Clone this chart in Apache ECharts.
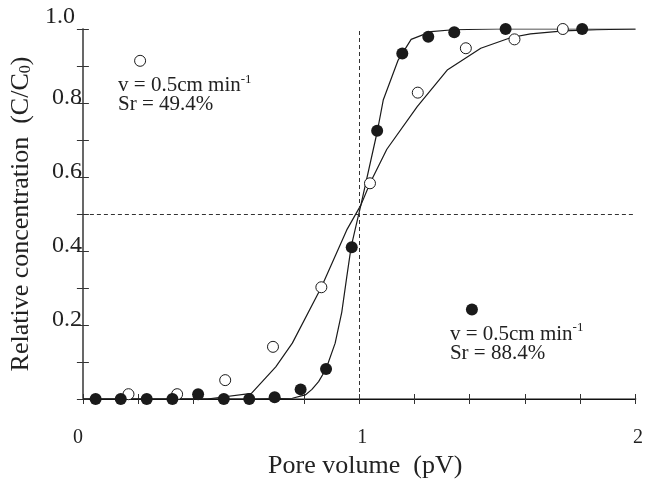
<!DOCTYPE html>
<html>
<head>
<meta charset="utf-8">
<script src="https://cdn.jsdelivr.net/npm/echarts@6/dist/echarts.min.js"></script>
<style>
  html, body { margin: 0; padding: 0; background: #fff; }
  #main { width: 646px; height: 491px; }
</style>
</head>
<body>
<div id="main"></div>
<script>
// tick labels
var xTickLabels = ['0', '1', '2'];
var yTickLabels = ['0.2', '0.4', '0.6', '0.8', '1.0'];

// Sr = 49.4% (open circles)
var pvOpen = [0.165, 0.341, 0.515, 0.688, 0.863, 1.039, 1.212, 1.386, 1.562, 1.737];
var cOpen  = [0.013, 0.013, 0.051, 0.141, 0.302, 0.583, 0.828, 0.948, 0.972, 1.0];

// Sr = 88.4% (filled circles)
var pvFilled = [0.046, 0.137, 0.231, 0.324, 0.417, 0.51, 0.602, 0.694, 0.788, 0.88, 0.973, 1.065, 1.156, 1.25, 1.344, 1.53, 1.807];
var cFilled  = [0, 0, 0, 0, 0.013, 0, 0, 0.005, 0.026, 0.081, 0.41, 0.725, 0.934, 0.979, 0.991, 1.0, 1.0];

// fitted curves
var pvFitOpen = [0, 0.45, 0.61, 0.698, 0.758, 0.863, 0.955, 1.006, 1.039, 1.1, 1.21, 1.32, 1.44, 1.55, 1.62, 1.74, 1.86, 2];
var cFitOpen  = [0, 0, 0.015, 0.087, 0.151, 0.302, 0.457, 0.524, 0.583, 0.675, 0.79, 0.89, 0.948, 0.977, 0.987, 0.995, 0.998, 1.0];
var pvFitFilled = [0, 0.6, 0.758, 0.805, 0.829, 0.853, 0.88, 0.913, 0.937, 0.955, 0.971, 0.985, 1.006, 1.066, 1.087, 1.141, 1.188, 1.26, 1.34, 1.5, 2];
var cFitFilled  = [0, 0, 0.002, 0.011, 0.026, 0.047, 0.081, 0.151, 0.235, 0.33, 0.412, 0.457, 0.524, 0.725, 0.808, 0.916, 0.972, 0.993, 0.998, 1.0, 1.0];

// legend markers (data coordinates)
var legendOpen = [0.207, 0.914];
var legendFilled = [1.408, 0.242];

function zip(a, b) {
  return a.map(function (v, i) { return [v, b[i]]; });
}

var serif = '"Liberation Serif", "Times New Roman", serif';
var ink = '#1a1a1a';

var myChart = echarts.init(document.getElementById('main'));

var tickX = {
  type: 'value', min: 0, max: 2, interval: 0.2,
  splitLine: { show: false },
  axisTick: { show: true, inside: true, length: 5, lineStyle: { color: '#333' } }
};

myChart.setOption({
  animation: false,
  grid: { left: 79, right: 9, top: 29, bottom: 92 },
  xAxis: [
    Object.assign({}, tickX, {
      position: 'bottom',
      axisLine: { lineStyle: { color: '#888', width: 2 } },
      axisLabel: {
        margin: 29,
        fontFamily: serif, fontSize: 20, color: '#222',
        formatter: function (v) {
          var i = xTickLabels.indexOf(String(Math.round(v * 10) / 10));
          if (i < 0) return '';
          return '{l' + i + '|' + xTickLabels[i] + '}';
        },
        rich: {
          l0: { fontFamily: serif, fontSize: 20, color: '#222', padding: [0, 10, 0, 0] },
          l1: { fontFamily: serif, fontSize: 20, color: '#222', padding: [0, 0, 0, 6] },
          l2: { fontFamily: serif, fontSize: 20, color: '#222', padding: [0, 0, 0, 5] }
        }
      },
      name: 'Pore volume  (pV)',
      nameLocation: 'middle',
      nameGap: 53,
      nameTextStyle: { fontFamily: serif, fontSize: 26, color: '#222', padding: [0, 0, 0, 12] }
    }),
    Object.assign({}, tickX, {
      position: 'top',
      axisLine: { lineStyle: { color: '#111', width: 1 } },
      axisLabel: { show: false }
    })
  ],
  yAxis: [
    {
      type: 'value', min: 0, max: 1, interval: 0.1, position: 'left',
      splitLine: { show: false },
      axisLine: { lineStyle: { color: '#888', width: 1.5 } },
      axisTick: { show: true, inside: true, length: 6, lineStyle: { color: '#333' } },
      axisLabel: {
        margin: 1,
        formatter: function (v) {
          var s = (Math.round(v * 10) / 10).toFixed(1);
          if (yTickLabels.indexOf(s) < 0) return '';
          return s === '1.0' ? '{top|' + s + '}' : '{n|' + s + '}';
        },
        rich: {
          n: { fontFamily: serif, fontSize: 24, color: '#222', padding: [0, 0, 10, 0] },
          top: { fontFamily: serif, fontSize: 24, color: '#222', padding: [0, 7, 24, 0] }
        }
      },
      name: '{a|Relative concentration  (C/C}{s|0}{a|)}',
      nameLocation: 'middle',
      nameRotate: 90,
      nameGap: 47,
      nameTextStyle: {
        rich: {
          a: { fontFamily: serif, fontSize: 26, color: '#222' },
          s: { fontFamily: serif, fontSize: 16, color: '#222', padding: [10, 0, 0, 0] }
        }
      }
    },
    {
      type: 'value', min: 0, max: 1, interval: 0.1, position: 'right',
      splitLine: { show: false },
      axisLine: { lineStyle: { color: '#555', width: 1.5 } },
      axisTick: { show: true, inside: true, length: 6, lineStyle: { color: '#333' } },
      axisLabel: { show: false }
    }
  ],
  series: [
    {
      name: 'fit 49.4',
      type: 'line',
      data: zip(pvFitOpen, cFitOpen),
      showSymbol: false,
      lineStyle: { color: ink, width: 1.2 },
      z: 2,
      markLine: {
        silent: true,
        symbol: ['none', 'none'],
        label: { show: false },
        lineStyle: { color: '#333', width: 1, type: [4, 3] },
        data: [{ xAxis: 1 }, { yAxis: 0.5 }]
      }
    },
    {
      name: 'fit 88.4',
      type: 'line',
      data: zip(pvFitFilled, cFitFilled),
      showSymbol: false,
      lineStyle: { color: ink, width: 1.2 },
      z: 2
    },
    {
      name: 'Sr 49.4',
      type: 'scatter',
      clip: false,
      data: zip(pvOpen, cOpen).concat([legendOpen]),
      symbol: 'circle',
      symbolSize: 11,
      itemStyle: { color: '#fff', borderColor: ink, borderWidth: 1, opacity: 1 },
      z: 3
    },
    {
      name: 'Sr 88.4',
      type: 'scatter',
      clip: false,
      data: zip(pvFilled, cFilled).concat([legendFilled]),
      symbol: 'circle',
      symbolSize: 12,
      itemStyle: { color: ink, opacity: 1 },
      z: 4
    }
  ]
});

// annotation texts next to the legend markers
function note(pt, sr) {
  var p = myChart.convertToPixel({ gridIndex: 0 }, pt);
  return [
    {
      type: 'text', x: p[0] - 22, y: p[1] + 25,
      style: {
        text: '{t|v = 0.5cm min}{u|-1}',
        verticalAlign: 'middle',
        rich: {
          t: { fontFamily: serif, fontSize: 21, fill: '#222' },
          u: { fontFamily: serif, fontSize: 13, fill: '#222', padding: [0, 0, 13, 0] }
        }
      }
    },
    {
      type: 'text', x: p[0] - 22, y: p[1] + 44,
      style: {
        text: 'Sr = ' + sr,
        verticalAlign: 'middle',
        font: '21px ' + serif,
        fill: '#222'
      }
    }
  ];
}

myChart.setOption({
  graphic: note(legendOpen, '49.4%').concat(note(legendFilled, '88.4%'))
});

window.addEventListener('resize', function () {
  myChart.resize();
});
</script>
</body>
</html>
